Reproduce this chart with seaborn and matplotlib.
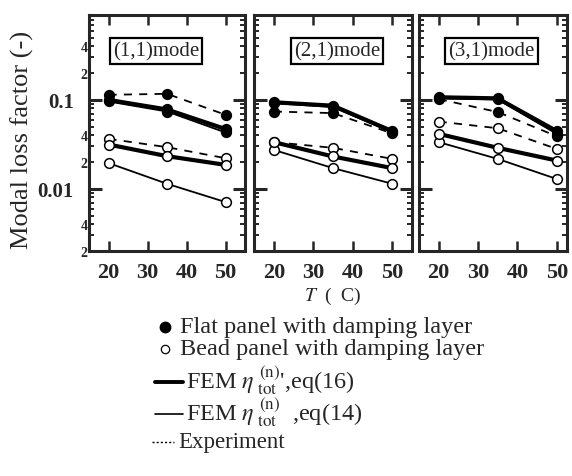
import matplotlib
matplotlib.use("Agg")
import matplotlib.pyplot as plt
from matplotlib.ticker import FixedLocator, FuncFormatter
import numpy as np
import pandas as pd
import seaborn as sns

# ---- data -------------------------------------------------------------
temps = [20, 35, 50]
modes = ["(1,1)mode", "(2,1)mode", "(3,1)mode"]

# modal loss factor per mode: [T=20, T=35, T=50]
flat_eq16 = [[0.100, 0.078, 0.047], [0.094, 0.086, 0.0445], [0.107, 0.104, 0.0445]]
flat_eq14 = [[0.096, 0.074, 0.043], [0.092, 0.083, 0.0430], [0.104, 0.101, 0.0415]]
flat_exp = [[0.114, 0.117, 0.068], [0.074, 0.071, 0.0420], [0.102, 0.073, 0.0390]]
bead_eq16 = [[0.0315, 0.0233, 0.0186], [0.0335, 0.0231, 0.0171], [0.0415, 0.0289, 0.0208]]
bead_eq14 = [[0.0195, 0.0114, 0.0071], [0.0274, 0.0171, 0.0114], [0.0335, 0.0217, 0.0129]]
bead_exp = [[0.0365, 0.0294, 0.0221], [0.0335, 0.0289, 0.0217], [0.0570, 0.0480, 0.0281]]

legend_panels = ["Flat panel with damping layer", "Bead panel with damping layer"]
legend_fem16 = r"FEM $\eta_{\ \mathrm{tot}}^{\ \mathrm{(n)}}$',eq(16)"
legend_fem14 = r"FEM $\eta_{\ \mathrm{tot}}^{\ \mathrm{(n)}}$  ,eq(14)"
legend_exp = "Experiment"

# ---- long-form table --------------------------------------------------
series = {
    ("Flat", "eq16"): flat_eq16, ("Flat", "eq14"): flat_eq14, ("Flat", "exp"): flat_exp,
    ("Bead", "eq16"): bead_eq16, ("Bead", "eq14"): bead_eq14, ("Bead", "exp"): bead_exp,
}
rows = []
for (panel, model), per_mode in series.items():
    for mode, vals in zip(modes, per_mode):
        for t, v in zip(temps, vals):
            rows.append({"mode": mode, "panel": panel, "model": model, "T": t, "eta": v})
df = pd.DataFrame(rows)

# ---- style ------------------------------------------------------------
sns.set_theme(style="ticks")
plt.rcParams["font.family"] = ["Liberation Serif", "DejaVu Serif"]
plt.rcParams["font.weight"] = "normal"
plt.rcParams["mathtext.fontset"] = "stix"

W, H = 572, 477
fig = plt.figure(figsize=(W / 100, H / 100), dpi=100)


def px_axes(l, t, r, b):
    return fig.add_axes([l / W, 1 - b / H, (r - l) / W, (b - t) / H])


axes = [px_axes(89, 16, 245, 252), px_axes(254, 16, 412, 252), px_axes(419, 16, 567, 252)]
xlims = [(15, 55), (15, 55), (15, 52.6)]
box_x = [0.43, 0.525, 0.49]

line_styles = {
    "exp": dict(lw=1.3, linestyle=(0, (4.5, 4))),
    "eq14": dict(lw=1.3, linestyle="-"),
    "eq16": dict(lw=3.0, linestyle="-"),
}
face = {"Flat": "black", "Bead": "white"}

major_y = [0.01, 0.1]
minor_y = [m * d for d in (0.001, 0.01, 0.1) for m in range(2, 10)]


def minor_fmt(v, pos):
    lead = round(v / 10 ** np.floor(np.log10(v) + 1e-9))
    return str(lead) if lead in (2, 4) else ""


for i, (ax, mode) in enumerate(zip(axes, modes)):
    for model in ["exp", "eq14", "eq16"]:
        for panel in ["Bead", "Flat"]:
            sub = df[(df["mode"] == mode) & (df["panel"] == panel) & (df["model"] == model)]
            sns.lineplot(data=sub, x="T", y="eta", ax=ax, color="black",
                         marker="o", markersize=7, markerfacecolor=face[panel],
                         markeredgecolor="black", markeredgewidth=1.1,
                         legend=False, **line_styles[model])
    ax.set_yscale("log")
    ax.set_ylim(0.002, 0.9)
    ax.set_xlim(*xlims[i])
    ax.set_xticks([20, 30, 40, 50])
    ax.yaxis.set_major_locator(FixedLocator(major_y))
    ax.yaxis.set_minor_locator(FixedLocator(minor_y))
    ax.yaxis.set_major_formatter(FuncFormatter(lambda v, p: f"{v:g}"))
    ax.yaxis.set_minor_formatter(FuncFormatter(minor_fmt))
    ax.set_xlabel("")
    ax.set_ylabel("")
    for s in ax.spines.values():
        s.set_linewidth(2.2)
        s.set_visible(True)
    ax.tick_params(axis="x", which="major", direction="in", top=True, bottom=True,
                   length=7, width=1.8, labelsize=16, pad=8)
    ax.tick_params(axis="y", which="major", direction="in", left=True, right=True,
                   length=9, width=2.2, labelsize=15, pad=11)
    ax.tick_params(axis="y", which="minor", direction="in", left=True, right=True,
                   length=3.5, width=1.4, labelsize=10, pad=1)
    if i > 0:
        ax.tick_params(axis="y", which="both", labelleft=False)
    for lab in ax.get_xticklabels() + ax.get_yticklabels(which="both"):
        lab.set_fontweight("bold")
    ax.text(box_x[i], 0.847, mode, transform=ax.transAxes, ha="center", va="center",
            fontsize=15,
            bbox=dict(boxstyle="square,pad=0.15", fc="white", ec="black", lw=1.6))

axes[1].set_xlabel(r"$T$  (  C)", fontsize=14, labelpad=2)
fig.text(22 / W, 1 - 140 / H, "Modal loss factor (-)", rotation=90, ha="center",
         va="center", fontsize=19)

# ---- legend block (pixel coordinates) --------------------------------
lax = fig.add_axes([0, 0, 1, 1])
lax.set_xlim(0, W)
lax.set_ylim(H, 0)
lax.axis("off")
lax.patch.set_alpha(0)
lax.plot([165], [328], "o", ms=7.5, mfc="black", mec="black")
lax.plot([165], [350], "o", ms=6, mfc="white", mec="black", mew=0.9)
lax.text(180, 328, legend_panels[0], va="center", fontsize=17.5)
lax.text(180, 350, legend_panels[1], va="center", fontsize=17.5)
lax.plot([155, 183], [383, 383], color="black", lw=2.8)
lax.text(186, 381, legend_fem16, va="center", fontsize=17.5)
lax.plot([155, 183], [415, 415], color="black", lw=1.2)
lax.text(186, 413, legend_fem14, va="center", fontsize=17.5)
lax.plot([152, 174], [443, 443], color="black", lw=1.0, linestyle=(0, (1.5, 1.5)))
lax.text(178, 443, legend_exp, va="center", fontsize=16.5)

fig.savefig("out.png", dpi=100)
